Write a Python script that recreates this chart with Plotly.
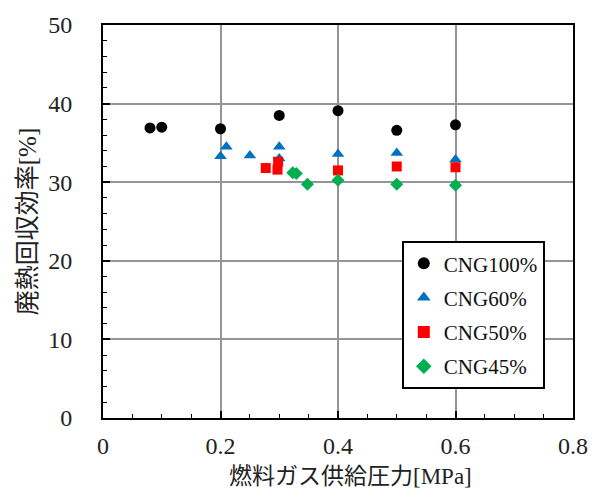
import plotly.graph_objects as go

# 燃料ガス供給圧力 [MPa] と 廃熱回収効率 [%]
cng100_p = [0.08, 0.10, 0.20, 0.30, 0.40, 0.50, 0.60]
cng100_eff = [36.9, 37.0, 36.8, 38.5, 39.1, 36.6, 37.3]

cng60_p = [0.20, 0.21, 0.25, 0.30, 0.30, 0.40, 0.50, 0.60]
cng60_eff = [33.3, 34.5, 33.4, 34.5, 33.0, 33.6, 33.7, 32.9]

cng50_p = [0.277, 0.298, 0.297, 0.40, 0.50, 0.60]
cng50_eff = [31.8, 32.6, 31.6, 31.5, 32.0, 31.9]

cng45_p = [0.323, 0.329, 0.348, 0.40, 0.50, 0.60]
cng45_eff = [31.2, 31.1, 29.75, 30.25, 29.75, 29.6]

series = [
    ("CNG100%", cng100_p, cng100_eff, "circle", "#000000", 11),
    ("CNG60%", cng60_p, cng60_eff, "triangle-up", "#0070C0", 11),
    ("CNG50%", cng50_p, cng50_eff, "square", "#FF0000", 10),
    ("CNG45%", cng45_p, cng45_eff, "diamond", "#00B050", 10),
]

serif = "'Liberation Serif', 'Times New Roman', 'Noto Sans CJK JP', serif"

fig = go.Figure()
for i, (name, xs, ys, sym, col, sz) in enumerate(series):
    fig.add_trace(go.Scatter(
        x=xs, y=ys, mode="markers", name=name, legendgroup=f"g{i}",
        marker=dict(symbol=sym, color=col, size=sz, line=dict(width=0)),
    ))

axis_common = dict(
    showline=True, linecolor="black", linewidth=2, mirror=True,
    showgrid=True, gridcolor="#959595", gridwidth=1.5,
    zeroline=False, ticks="inside", ticklen=7, tickwidth=1.5, tickcolor="black",
    tickfont=dict(family=serif, size=24, color="#222"),
)

fig.update_xaxes(
    range=[0, 0.8], dtick=0.2, tickformat="~g",
    minor=dict(ticks="inside", dtick=0.05, ticklen=4, tickcolor="black", tickwidth=1, showgrid=False),
    ticklabelstandoff=5,
    **axis_common,
)
fig.update_yaxes(
    range=[0, 50], dtick=10,
    minor=dict(ticks="inside", dtick=2, ticklen=4, tickcolor="black", tickwidth=1, showgrid=False),
    ticklabelstandoff=24,
    title=dict(text="廃熱回収効率[%]", font=dict(family=serif, size=25, color="#222"), standoff=4),
    **axis_common,
)

# x-axis title, set slightly right of the plot centre
fig.add_annotation(
    text="燃料ガス供給圧力[MPa]", xref="paper", yref="paper",
    x=0.526, y=-0.15, xanchor="center", yanchor="middle", showarrow=False,
    font=dict(family=serif, size=23, color="#222"),
)

fig.update_layout(
    width=601, height=498,
    margin=dict(l=103, r=28, t=18, b=80),
    paper_bgcolor="white", plot_bgcolor="white",
    font=dict(family=serif, color="#222"),
    legend=dict(
        x=0.94, y=0.45, xanchor="right", yanchor="top",
        bgcolor="white", bordercolor="black", borderwidth=2,
        font=dict(family=serif, size=21, color="#111"),
        tracegroupgap=4, itemsizing="constant",
    ),
)

fig.write_html("out.html")
